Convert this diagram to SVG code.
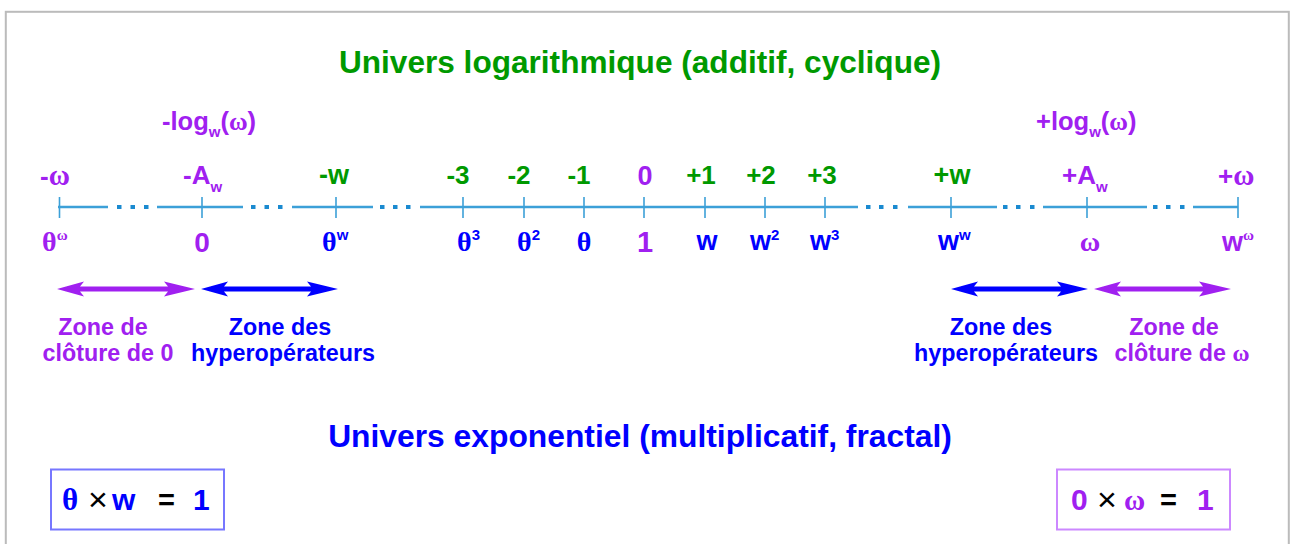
<svg xmlns="http://www.w3.org/2000/svg" width="1291" height="544" viewBox="0 0 1291 544">
<style>
.s{font-family:"Liberation Sans",Arial,sans-serif;font-weight:bold}
.r{font-family:"Liberation Serif","Times New Roman",serif}
.th{font-family:"Liberation Serif","Times New Roman",serif;font-weight:bold}
.g{fill:#009900}
.b{fill:#0000ff}
.p{fill:#a020f0}
.k{fill:#000}
.ax{stroke:#3ca0d8;stroke-width:2.5;fill:none}
.tk{stroke:#3ca0d8;stroke-width:1.6}
.dot{fill:#1a8ad0}
.m{text-anchor:middle}
</style>
<rect x="5.8" y="11.8" width="1283" height="560" fill="#fff" stroke="#bbbbbb" stroke-width="2"/>

<g id="title-log"><text class="s g m" x="640" y="73" font-size="31.6">Univers logarithmique (additif, cyclique)</text></g>
<g id="title-exp"><text class="s b m" x="640" y="447" font-size="31.8">Univers exponentiel (multiplicatif, fractal)</text></g>

<g id="axis">
<path class="ax" d="M58 207H108M157 207H243M292 207H373M420 207H858M908 207H997M1043 207H1147M1193 207H1238"/>
<g class="dot">
<rect x="117" y="205" width="4.5" height="4"/><rect x="130.5" y="205" width="4.5" height="4"/><rect x="144" y="205" width="4.5" height="4"/>
<rect x="251" y="205" width="4.5" height="4"/><rect x="264.5" y="205" width="4.5" height="4"/><rect x="278" y="205" width="4.5" height="4"/>
<rect x="380" y="205" width="4.5" height="4"/><rect x="393" y="205" width="4.5" height="4"/><rect x="406" y="205" width="4.5" height="4"/>
<rect x="866" y="205" width="4.5" height="4"/><rect x="879" y="205" width="4.5" height="4"/><rect x="893" y="205" width="4.5" height="4"/>
<rect x="1003" y="205" width="4.5" height="4"/><rect x="1016" y="205" width="4.5" height="4"/><rect x="1030" y="205" width="4.5" height="4"/>
<rect x="1153" y="205" width="4.5" height="4"/><rect x="1166" y="205" width="4.5" height="4"/><rect x="1180" y="205" width="4.5" height="4"/>
</g>
<path class="tk" d="M59.5 197V218M202 197V218M336 197V218M463 197V218M524 197V218M584 197V218M644 197V218M705 197V218M765 197V218M825 197V218M951 197V218M1087 197V218M1238 197V218"/>
</g>

<g id="node-log-minus"><text class="s p" x="162" y="130" font-size="25.5">-log<tspan dy="7" font-size="15">w</tspan><tspan dy="-7">(</tspan><tspan class="r" font-weight="bold">ω</tspan>)</text></g>
<g id="node-log-plus"><text class="s p" x="1036" y="130" font-size="25.5">+log<tspan dy="7" font-size="15">w</tspan><tspan dy="-7">(</tspan><tspan class="r" font-weight="bold">ω</tspan>)</text></g>

<g id="node-minus-omega">
<text class="s p" x="40" y="185" font-size="26">-<tspan class="r" font-weight="bold" font-size="29">ω</tspan></text>
<text class="th p" x="42" y="251" font-size="28">θ<tspan dy="-11" font-size="15">ω</tspan></text>
</g>
<g id="node-minus-A">
<text class="s p" x="183" y="184" font-size="26">-A<tspan dy="8" font-size="15">w</tspan></text>
<text class="s p m" x="202" y="252" font-size="28">0</text>
</g>
<g id="node-minus-w">
<text class="s g m" x="334" y="184" font-size="27">-w</text>
<text class="th b" x="322" y="251" font-size="28">θ<tspan class="s" dy="-11" font-size="15">w</tspan></text>
</g>
<g id="node-minus-3">
<text class="s g m" x="458" y="184" font-size="26">-3</text>
<text class="th b" x="457" y="251" font-size="28">θ<tspan class="s" dy="-11" font-size="15">3</tspan></text>
</g>
<g id="node-minus-2">
<text class="s g m" x="519" y="184" font-size="26">-2</text>
<text class="th b" x="517" y="251" font-size="28">θ<tspan class="s" dy="-11" font-size="15">2</tspan></text>
</g>
<g id="node-minus-1">
<text class="s g m" x="579" y="184" font-size="26">-1</text>
<text class="th b m" x="584" y="251" font-size="28">θ</text>
</g>
<g id="node-zero">
<text class="s p m" x="645" y="185" font-size="27">0</text>
<text class="s p m" x="645" y="252" font-size="29">1</text>
</g>
<g id="node-plus-1">
<text class="s g m" x="701" y="184" font-size="26">+1</text>
<text class="s b m" x="707" y="250" font-size="27">w</text>
</g>
<g id="node-plus-2">
<text class="s g m" x="761" y="184" font-size="26">+2</text>
<text class="s b" x="750" y="250" font-size="27">w<tspan dy="-10" font-size="15">2</tspan></text>
</g>
<g id="node-plus-3">
<text class="s g m" x="822" y="184" font-size="26">+3</text>
<text class="s b" x="810" y="250" font-size="27">w<tspan dy="-10" font-size="15">3</tspan></text>
</g>
<g id="node-plus-w">
<text class="s g m" x="952" y="184" font-size="27">+w</text>
<text class="s b" x="938" y="250" font-size="27">w<tspan dy="-10" font-size="15">w</tspan></text>
</g>
<g id="node-plus-A">
<text class="s p" x="1062" y="184" font-size="26">+A<tspan dy="8" font-size="15">w</tspan></text>
<text class="r p m" x="1090" y="251" font-size="28" font-weight="bold">ω</text>
</g>
<g id="node-plus-omega">
<text class="s p" x="1218" y="185" font-size="26">+<tspan class="r" font-size="29">ω</tspan></text>
<text class="s p" x="1222" y="251" font-size="27">w<tspan class="r" dy="-11" font-size="15">ω</tspan></text>
</g>

<g id="connectors">
<path class="p" d="M57 289L84 281.5L80 286.5H168L164 281.5L195 289L164 296.5L168 291.5H80L84 296.5Z"/>
<path class="b" d="M201 289L228 281.5L224 286.5H311L307 281.5L338 289L307 296.5L311 291.5H224L228 296.5Z"/>
<path class="b" d="M951 289L978 281.5L974 286.5H1061L1057 281.5L1088 289L1057 296.5L1061 291.5H974L978 296.5Z"/>
<path class="p" d="M1094 289L1121 281.5L1117 286.5H1203L1199 281.5L1231 289L1199 296.5L1203 291.5H1117L1121 296.5Z"/>
</g>

<g id="zone-cloture-0">
<text class="s p m" x="103" y="335" font-size="23.3">Zone de</text>
<text class="s p m" x="108" y="361" font-size="23.3">clôture de 0</text>
</g>
<g id="zone-hyper-left">
<text class="s b m" x="280" y="335" font-size="23.3">Zone des</text>
<text class="s b m" x="283" y="361" font-size="23.3">hyperopérateurs</text>
</g>
<g id="zone-hyper-right">
<text class="s b m" x="1001" y="335" font-size="23.3">Zone des</text>
<text class="s b m" x="1006" y="361" font-size="23.3">hyperopérateurs</text>
</g>
<g id="zone-cloture-omega">
<text class="s p m" x="1174" y="335" font-size="23.3">Zone de</text>
<text class="s p m" x="1182" y="361" font-size="23.3">clôture de <tspan class="r">ω</tspan></text>
</g>

<g id="box-left">
<rect x="51" y="469.5" width="173" height="60" fill="#fff" stroke="#7777ff" stroke-width="2"/>
<text class="th b" x="62" y="510" font-size="31">θ</text>
<text class="k" x="88" y="511" font-size="34" font-family="Liberation Sans,Arial,sans-serif">×</text>
<text class="s b" x="112" y="510" font-size="30">w</text>
<text class="s k" x="158" y="510" font-size="29">=</text>
<text class="s b" x="193" y="510" font-size="30">1</text>
</g>
<g id="box-right">
<rect x="1057" y="469.5" width="173" height="60" fill="#fff" stroke="#cc88ff" stroke-width="2"/>
<text class="s p" x="1071" y="510" font-size="30">0</text>
<text class="k" x="1097" y="511" font-size="34" font-family="Liberation Sans,Arial,sans-serif">×</text>
<text class="r p" x="1124" y="510" font-size="29" font-weight="bold">ω</text>
<text class="s k" x="1160" y="510" font-size="29">=</text>
<text class="s p" x="1197" y="510" font-size="30">1</text>
</g>
</svg>
